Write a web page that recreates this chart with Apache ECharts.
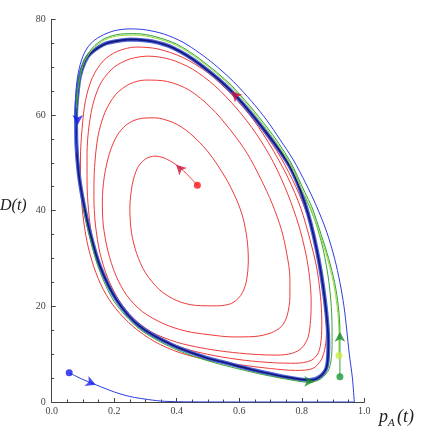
<!DOCTYPE html>
<html><head><meta charset="utf-8">
<script src="https://cdn.jsdelivr.net/npm/echarts@6/dist/echarts.min.js"></script>
<style>html,body{margin:0;padding:0;background:#fff}#c{width:425px;height:433px}</style>
</head><body><div id="c"></div>
<script>
const xTicks = [0, 0.2, 0.4, 0.6, 0.8, 1.0];
const yTicks = [0, 20, 40, 60, 80];

const redSpiral = [[0.466,45.3],[0.43,47.8],[0.398,49.6],[0.36,51.0],[0.330,51.4],[0.30,50.8],[0.275,49],[0.258,45.5],[0.25,40.5],[0.255,35.5],[0.272,31],[0.30,27],[0.346,23.4],[0.40,21.2],[0.46,20.2],[0.528,20.1],[0.575,20.6],[0.605,22.3],[0.622,25],[0.629,29.7],[0.625,34],[0.612,38.5],[0.59,42.5],[0.555,47],[0.50,52.3],[0.44,56.3],[0.389,58.4],[0.33,59.4],[0.28,59.2],[0.24,58],[0.21,55.8],[0.185,52],[0.168,47],[0.162,42],[0.165,37],[0.18,31.5],[0.205,26.5],[0.24,22.3],[0.29,18.9],[0.36,16.3],[0.43,14.8],[0.50,14.1],[0.58,13.6],[0.65,13.7],[0.70,14.4],[0.735,15.8],[0.753,18],[0.762,22],[0.762,26],[0.752,31],[0.735,36],[0.705,41.5],[0.67,46.5],[0.625,52],[0.57,57],[0.51,61.5],[0.44,65.2],[0.37,67],[0.30,67.3],[0.25,66.5],[0.205,64.3],[0.17,60.5],[0.148,55.5],[0.137,49],[0.135,43],[0.14,37],[0.155,31],[0.18,25.8],[0.215,21.3],[0.26,17.6],[0.32,14.6],[0.40,12.5],[0.48,11.3],[0.56,10.5],[0.64,10],[0.72,9.8],[0.77,10.2],[0.80,11.3],[0.82,13.5],[0.828,17],[0.83,21],[0.825,26],[0.813,31],[0.79,37],[0.755,43.5],[0.71,50],[0.655,56],[0.59,61.5],[0.52,66.2],[0.45,69.6],[0.38,71.6],[0.31,72.3],[0.25,71.7],[0.20,70],[0.16,67],[0.135,63],[0.12,58],[0.113,52],[0.113,46],[0.118,40],[0.13,34],[0.15,29],[0.18,24.3],[0.22,20],[0.28,16.2],[0.35,13.2],[0.43,11.1],[0.52,9.7],[0.62,8.7],[0.71,8.2],[0.78,8.1],[0.83,8.7],[0.853,10.3],[0.862,13],[0.864,17],[0.86,22],[0.848,28],[0.826,34],[0.797,40.5],[0.755,47],[0.705,53],[0.645,59],[0.575,64.3],[0.5,68.8],[0.42,72],[0.34,73.8],[0.27,74.2],[0.21,73.3],[0.165,71.3],[0.13,67.8],[0.108,63],[0.097,57],[0.092,51],[0.093,45],[0.1,39],[0.113,33.5],[0.135,28.2],[0.165,23.5],[0.205,19.5],[0.26,15.8],[0.33,12.6],[0.41,10.3],[0.50,8.8],[0.60,7.8],[0.70,7],[0.78,6.6],[0.835,7.0],[0.862,8.8],[0.875,11.5],[0.879,15],[0.875,21],[0.86,28],[0.838,35],[0.81,40.5],[0.77,46.5],[0.72,52.5],[0.66,58],[0.60,62.8],[0.576,64.6]];

const limitCycle = [[0.25,75.8],[0.32,75.4],[0.389,74.0],[0.474,70.6],[0.576,64.9],[0.688,56.2],[0.762,49.2],[0.81,41.5],[0.848,31.8],[0.874,21.3],[0.885,12.3],[0.880,7.4],[0.858,5.3],[0.826,4.6],[0.752,5.2],[0.645,6.7],[0.55,8.3],[0.496,9.2],[0.389,11.8],[0.282,15.8],[0.208,21.3],[0.155,28.3],[0.123,35.3],[0.10,42.2],[0.086,48],[0.079,54],[0.078,60],[0.082,64],[0.09,68],[0.105,71],[0.123,72.8],[0.176,75],[0.25,75.8]];

const blueBottom = [[0.056,6.1],[0.10,4.7],[0.141,3.6],[0.2,2.1],[0.25,1.15],[0.31,0.5],[0.36,0.15],[0.45,0.02],[0.6,0],[0.8,0],[0.968,0]];
const blueOuter = [[0.968,0],[0.962,5],[0.952,10],[0.944,15],[0.935,20],[0.922,25],[0.905,30],[0.88,35.5],[0.848,40.8],[0.812,45.8],[0.773,50.6],[0.73,54.9],[0.688,58.9],[0.64,62.8],[0.581,67],[0.52,70.6],[0.474,72.9],[0.42,75.2],[0.36,76.9],[0.30,77.8],[0.25,78.0],[0.2,77.6],[0.155,76.4],[0.123,74.8],[0.1,72.3],[0.085,68.8],[0.077,64.5],[0.075,60],[0.077,56],[0.08,52]];

const greenDark = [[0.922,5.3],[0.922,10],[0.922,14.7],[0.917,20],[0.905,25],[0.886,30],[0.862,35],[0.832,40.8],[0.81,43.8],[0.762,50.4],[0.688,57.5],[0.576,66.1],[0.474,71.7],[0.40,74.8],[0.33,76.4],[0.27,77.0],[0.22,76.9],[0.17,76],[0.13,74],[0.10,70.7],[0.085,66.3],[0.078,61.5],[0.077,57]];
const greenLight = [[0.919,9.7],[0.919,14.5],[0.913,20],[0.901,25],[0.882,30],[0.858,35],[0.828,40.6],[0.806,43.6],[0.759,50.1],[0.686,57.2],[0.576,65.8],[0.474,71.4],[0.40,74.5],[0.33,76.1],[0.27,76.7],[0.22,76.6],[0.17,75.7],[0.13,73.7],[0.10,70.4],[0.085,66],[0.079,61.5]];
const greenLap = [[0.10,41],[0.12,35],[0.15,28],[0.2,21],[0.28,15.3],[0.39,11.2],[0.5,8.6],[0.65,6.1],[0.75,4.8],[0.826,4.1],[0.862,4.9],[0.888,7],[0.897,12],[0.896,18],[0.887,25],[0.868,32],[0.842,38],[0.81,43]];

const startRed = [0.466,45.3];
const startBlue = [0.056,6.1];
const startGreenDark = [0.922,5.3];
const startGreenLight = [0.919,9.7];

const redArrows = [[0.398,49.6],[0.576,64.9]];
const redArrowRot = [45, 45];
const blueArrows = [[0.083,57.9],[0.141,3.6]];
const blueArrowRot = [180, -112];
const greenArrows = [[0.922,14.7],[0.84,4.3]];
const greenArrowRot = [0, -90];

const chart = echarts.init(document.getElementById('c'), null, {renderer:'canvas'});
const serif = 'Liberation Serif';
function lineS(data, color, width, z){
  return {type:'line', data, smooth:0.3, showSymbol:false, symbol:'none', silent:true,
    lineStyle:{color, width}, z: z||2, animation:false};
}
function arrowS(pts, rots, color){
  return {type:'scatter', symbol:'arrow', symbolSize:[8,10], z:10, animation:false,
    itemStyle:{color}, data: pts.map((p,i)=>({value:p, symbolRotate: rots[i]}))};
}
function dotS(p, color){
  return {type:'scatter', symbol:'circle', symbolSize:7, z:11, animation:false,
    itemStyle:{color}, data:[p]};
}
const option = {
  backgroundColor:'#fff',
  animation:false,
  grid:{left:51.7, right:60.7, top:19.3, bottom:31},
  xAxis:{type:'value', min:0, max:1, interval:0.2,
    axisLine:{onZero:false, lineStyle:{color:'#444', width:1}},
    axisTick:{inside:true, length:4, lineStyle:{color:'#444'}},
    minorTick:{show:true, splitNumber:4, length:2.5, lineStyle:{color:'#444'}},
    splitLine:{show:false},
    axisLabel:{fontFamily:serif, fontSize:10, color:'#444', margin:4, formatter:v=>v.toFixed(1)}},
  yAxis:{type:'value', min:0, max:80, interval:20,
    axisLine:{show:true, onZero:false, lineStyle:{color:'#444', width:1}},
    axisTick:{show:true, inside:true, length:4, lineStyle:{color:'#444'}},
    minorTick:{show:true, splitNumber:4, length:2.5, lineStyle:{color:'#444'}},
    splitLine:{show:false},
    axisLabel:{fontFamily:serif, fontSize:10, color:'#444', margin:6}},
  graphic:[
    {type:'text', left:0, top:198, style:{text:'D(t)', font:'italic 16px "Liberation Serif"', fill:'#222'}},
    {type:'text', left:379, top:408, style:{text:'p', font:'italic 18px "Liberation Serif"', fill:'#222'}},
    {type:'text', left:388, top:418, style:{text:'A', font:'italic 11px "Liberation Serif"', fill:'#222'}},
    {type:'text', left:397, top:408, style:{text:'(t)', font:'italic 18px "Liberation Serif"', fill:'#222'}}
  ],
  series:[
    lineS(redSpiral, '#f03a3a', 1, 2),
    lineS(limitCycle, '#4a64d6', 4, 3),
    lineS(limitCycle, '#15157a', 1.6, 4),
    lineS(greenLap, '#3aa63a', 1, 3),
    lineS(greenLight, '#99dd33', 1, 5),
    lineS(greenDark, '#2f9f3a', 1, 5),
    lineS(blueBottom, '#2a3ee0', 1, 6),
    lineS(blueOuter, '#2a3ee0', 1, 6),
    dotS(startRed, '#ff1111'),
    dotS(startBlue, '#1a1aee'),
    dotS(startGreenDark, '#1a9a3a'),
    dotS(startGreenLight, '#ccee44'),
    arrowS(redArrows, redArrowRot, '#cc1133'),
    arrowS(blueArrows, blueArrowRot, '#1a1aee'),
    arrowS(greenArrows, greenArrowRot, '#1a8a2a')
  ]
};
chart.setOption(option);
</script></body></html>
